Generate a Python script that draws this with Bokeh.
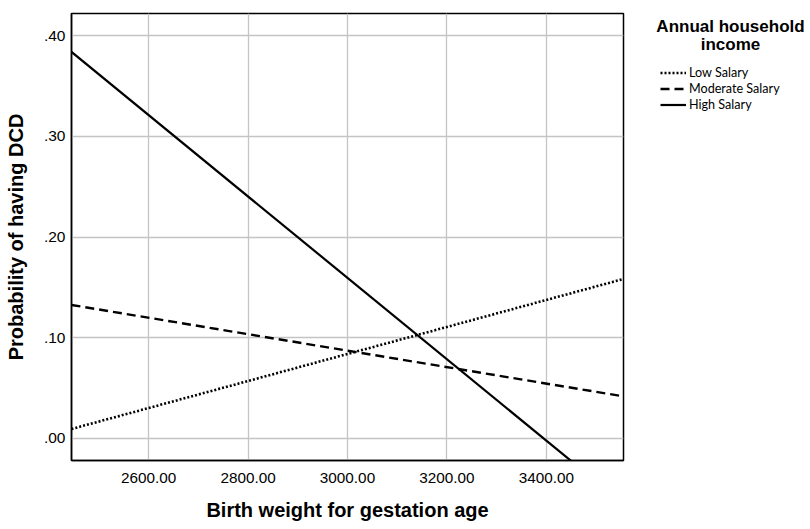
from bokeh.plotting import figure
from bokeh.layouts import row
from bokeh.models import Range1d, Legend, LegendItem, NumeralTickFormatter, CustomJSTickFormatter, FixedTicker, Label
from bokeh.embed import file_html
from bokeh.resources import INLINE

# Data: straight fitted lines, endpoints at the x-range edges
birth_weight = [2445, 3555]
low_salary = [0.0093, 0.1583]
moderate_salary = [0.1325, 0.0417]
high_salary = [0.3838, -0.065]

x_ticks = [2600, 2800, 3000, 3200, 3400]
y_ticks = [0.0, 0.1, 0.2, 0.3, 0.4]
legend_title = ["Annual household", "income"]
series_names = ["Low Salary", "Moderate Salary", "High Salary"]

styles = [dict(line_color="black", line_width=2.6, line_dash="2 2"),
          dict(line_color="black", line_width=2.4, line_dash="9 5"),
          dict(line_color="black", line_width=2.2)]
series = [low_salary, moderate_salary, high_salary]

H = 528
p = figure(width=628, height=H, output_backend="svg", toolbar_location=None,
           x_range=Range1d(2445, 3555), y_range=Range1d(-0.022, 0.422),
           min_border_left=71, min_border_top=13, min_border_right=5, min_border_bottom=68)

p.background_fill_color = "white"
p.outline_line_color = "black"
p.outline_line_width = 1.5

for ys, st in zip(series, styles):
    p.line(birth_weight, ys, **st)

for ax in (p.xaxis[0], p.yaxis[0]):
    ax.major_tick_line_color = None
    ax.minor_tick_line_color = None
    ax.major_tick_out = 0
    ax.major_tick_in = 0
    ax.minor_tick_out = 0
    ax.minor_tick_in = 0
    ax.axis_line_color = "black"
    ax.axis_line_width = 1.5
    ax.major_label_text_font = "Liberation Sans"
    ax.major_label_text_color = "black"
    ax.axis_label_text_font = "Liberation Sans"
    ax.axis_label_text_font_size = "20px"
    ax.axis_label_text_font_style = "bold"
    ax.axis_label_text_color = "black"

p.xaxis.major_label_text_font_size = "15.3px"
p.yaxis.major_label_text_font_size = "15.5px"
p.xaxis.ticker = FixedTicker(ticks=x_ticks)
p.yaxis.ticker = FixedTicker(ticks=y_ticks)
p.xaxis.formatter = NumeralTickFormatter(format="0.00")
p.yaxis.formatter = CustomJSTickFormatter(code="return tick.toFixed(2).replace(/^0/, '');")
p.xaxis.axis_label = "Birth weight for gestation age"
p.yaxis.axis_label = "Probability of having DCD"
p.xaxis.major_label_standoff = 12
p.xaxis.axis_label_standoff = 13
p.yaxis.major_label_standoff = 6
p.yaxis.axis_label_standoff = 14

p.xgrid.grid_line_color = "#c4c4c4"
p.ygrid.grid_line_color = "#c4c4c4"
p.xgrid.grid_line_width = 1.3
p.ygrid.grid_line_width = 1.3

# Legend panel: a separate figure whose own copies of the lines lie outside its view.
# Its frame is aligned with the main frame.
lf = figure(width=178, height=H, output_backend="svg", toolbar_location=None,
            x_range=Range1d(0, 1), y_range=Range1d(0, 1),
            x_axis_type=None, y_axis_type=None,
            min_border_left=0, min_border_right=0, min_border_top=0, min_border_bottom=0)
lf.outline_line_color = None
lf.xgrid.visible = False
lf.ygrid.visible = False
items = []
for name, ys, st in zip(series_names, series, styles):
    r = lf.line(birth_weight, ys, **st)
    items.append(LegendItem(label=name, renderers=[r]))

legend = Legend(items=items, location=(32, 348))
legend.label_text_font = "Lato"
legend.label_text_font_size = "12.6px"
legend.label_text_color = "black"
legend.label_height = 15
legend.glyph_height = 15
legend.glyph_width = 26
legend.label_standoff = 3
legend.spacing = 1
legend.padding = 2
legend.margin = 0
legend.border_line_color = None
legend.background_fill_alpha = 0
lf.add_layout(legend)

for i, t in enumerate(legend_title):
    lf.add_layout(Label(x=102, y=434 - i * 18, x_units="screen", y_units="screen", text=t,
                        text_align="center", text_baseline="middle",
                        text_font="Liberation Sans", text_font_style="bold",
                        text_font_size="17px", text_color="black"))

open("out.html", "w").write(file_html(row(p, lf), INLINE))
